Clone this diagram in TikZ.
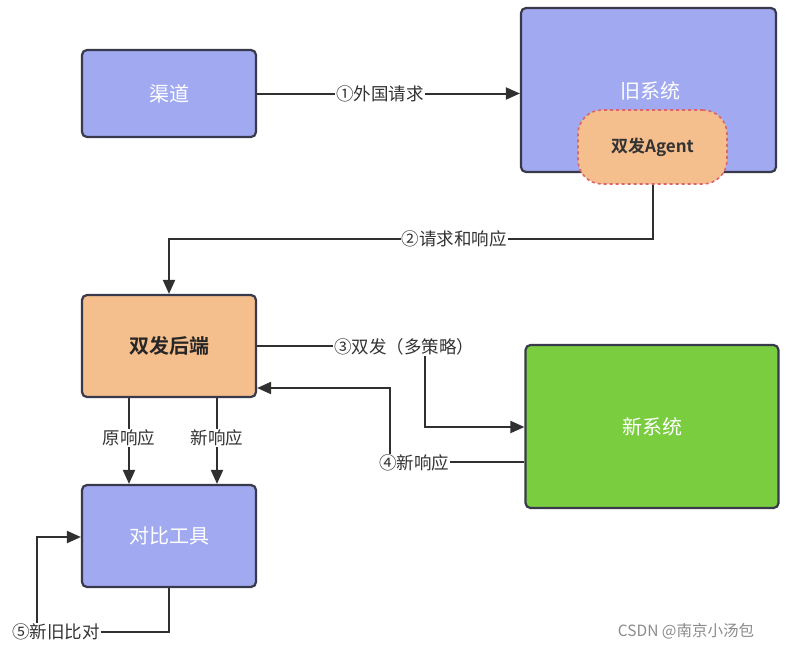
\documentclass[tikz,border=0pt]{standalone}
\usepackage{fontspec}
\setmainfont{Noto Sans CJK SC}
\newfontfamily\cjkbold{Noto Sans CJK SC Bold}
\usetikzlibrary{arrows.meta}
\definecolor{peri}{HTML}{A1AAF1}
\definecolor{peach}{HTML}{F5BE8D}
\definecolor{grn}{HTML}{79CD3F}
\definecolor{edgecol}{HTML}{303030}
\definecolor{bordercol}{HTML}{383A4C}
\definecolor{redd}{HTML}{D9666A}
\begin{document}
\begin{tikzpicture}[x=1pt,y=-1pt,
  box/.style={draw=bordercol,line width=2.2pt,rounded corners=5pt,inner sep=0pt},
  bluebox/.style={box,fill=peri,text=white,font=\fontsize{20}{23}\selectfont},
  conn/.style={draw=edgecol,line width=2pt,-{Triangle[length=14pt,width=12pt]}},
  lbl/.style={fill=white,inner sep=1pt,text=black!80,font=\fontsize{17.5}{20}\selectfont}]
\useasboundingbox (0,0) rectangle (786,649);
\fill[white] (0,0) rectangle (786,649);
% nodes
\node[bluebox,minimum width=174pt,minimum height=87pt] (qudao) at (169,93.5) {渠道};
\node[bluebox,minimum width=255pt,minimum height=164pt] (old) at (648.5,90) {};
\node[text=white,font=\fontsize{20}{23}\selectfont] (oldlbl) at (650,91) {旧系统};
\node[draw=redd,dashed,line width=1.6pt,fill=peach,rounded corners=24pt,minimum width=149pt,minimum height=74pt,inner sep=0pt,font=\cjkbold\fontsize{17}{20}\selectfont,text=black!80] (agent) at (652.5,147) {双发Agent};
\node[box,fill=peach,minimum width=174pt,minimum height=102pt,font=\cjkbold\fontsize{20}{23}\selectfont,text=black!85] (backend) at (169,346) {双发后端};
\node[box,fill=grn,minimum width=253pt,minimum height=163pt,text=white,font=\fontsize{20}{23}\selectfont] (newsys) at (652,426.5) {新系统};
\node[bluebox,minimum width=174pt,minimum height=102pt] (compare) at (169,536) {对比工具};
% bend coordinates
\coordinate (b2) at (652.5,239);
\coordinate (b3a) at (425,346);
\coordinate (b3b) at (425,427);
\coordinate (b4a) at (390,462);
\coordinate (b4b) at (390,388);
\coordinate (b5a) at (169,632);
\coordinate (b5b) at (37,632);
\coordinate (b5c) at (37,537);
% connectors
\draw[conn] (qudao.east) -- (qudao.east -| old.west);
\draw[conn] (agent.south) -- (b2) -| (backend.north);
\draw[conn] (backend.east) -- (b3a) -- (b3b) -- (b3b -| newsys.west);
\draw[conn] (b4a -| newsys.west) -- (b4a) -- (b4b) -- (b4b -| backend.east);
\draw[conn] ([xshift=-40pt]backend.south) -- ([xshift=-40pt]compare.north);
\draw[conn] ([xshift=48pt]backend.south) -- ([xshift=48pt]compare.north);
\draw[conn] (compare.south) -- (b5a) -- (b5b) -- (b5c) -- (b5c -| compare.west);
% labels
\node[lbl] (l1) at (380,94) {①外国请求};
\node[lbl] (l2) at (454,239) {②请求和响应};
\node[lbl] (l3) at (404,347) {③双发（多策略）};
\node[lbl] (l4) at (414,463) {④新响应};
\node[lbl] (l5) at (56,632) {⑤新旧比对};
\node[lbl] (l6) at (129,438) {原响应};
\node[lbl] (l7) at (217,438) {新响应};
\node[text=black!45,font=\fontsize{15.5}{18}\selectfont] (wm) at (686,631) {CSDN @南京小汤包};
\end{tikzpicture}
\end{document}
